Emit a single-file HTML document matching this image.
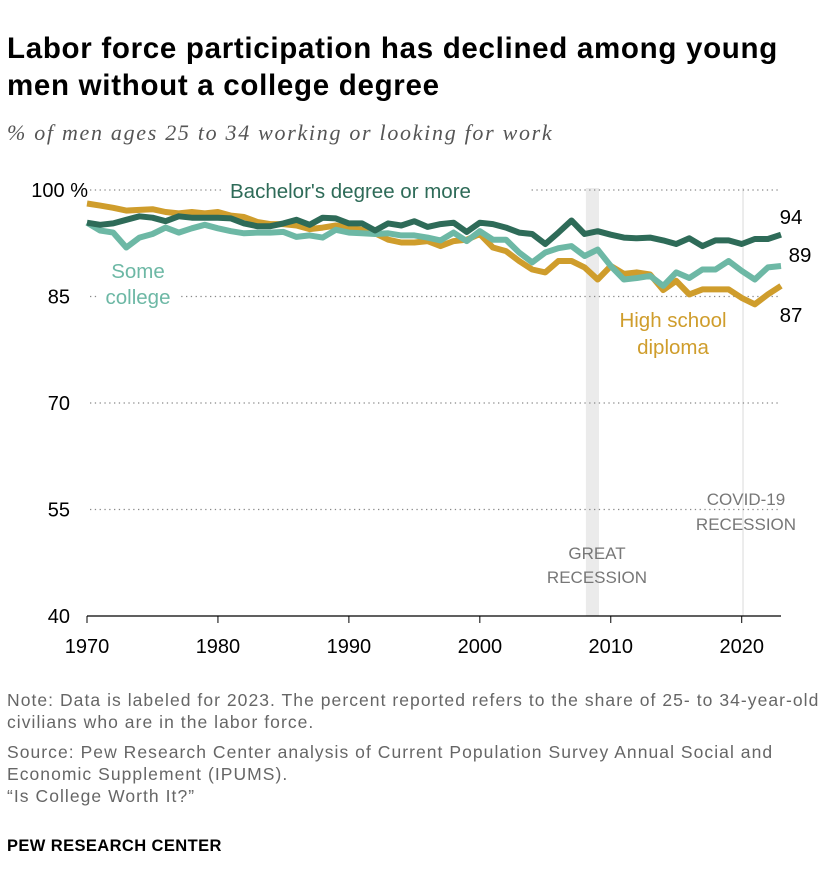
<!DOCTYPE html>
<html><head><meta charset="utf-8"><style>
body{margin:0;background:#fff;font-family:"Liberation Sans",sans-serif;}
#wrap{position:relative;width:840px;height:896px;overflow:hidden;}
.t{position:absolute;margin:0}
</style></head><body>
<div id="wrap">
<h1 class="t" style="left:7px;top:30px;font-size:29.5px;line-height:37px;font-weight:bold;color:#000;white-space:nowrap;letter-spacing:0.7px">Labor force participation has declined among young<br>men without a college degree</h1>
<div class="t" style="left:7px;top:120px;font-size:22px;font-style:italic;font-family:'Liberation Serif',serif;color:#555;letter-spacing:1.7px;white-space:nowrap">% of men ages 25 to 34 working or looking for work</div>
<svg id="chart" width="840" height="660" style="position:absolute;left:0;top:0"></svg>
<div class="t" style="left:7px;top:689px;font-size:17.5px;line-height:22px;color:#666;white-space:nowrap;letter-spacing:1.05px">Note: Data is labeled for 2023. The percent reported refers to the share of 25- to 34-year-old<br>civilians who are in the labor force.</div>
<div class="t" style="left:7px;top:741px;font-size:17.5px;line-height:22px;color:#666;white-space:nowrap;letter-spacing:1.05px">Source: Pew Research Center analysis of Current Population Survey Annual Social and<br>Economic Supplement (IPUMS).<br>“Is College Worth It?”</div>
<div class="t" style="left:7px;top:837px;font-size:16.5px;font-weight:bold;color:#000;letter-spacing:0.4px">PEW RESEARCH CENTER</div>
</div>
<script>
const years=[];for(let y=1970;y<=2023;y++)years.push(y);
const yTicks=[100,85,70,55,40];
const yTickLabels=["100 %","85","70","55","40"];
const xTicks=[1970,1980,1990,2000,2010,2020];
const bachelor=[95.4,95.1,95.3,95.8,96.3,96.1,95.6,96.3,96.1,96.1,96.1,96.0,95.3,94.9,94.9,95.3,95.8,95.1,96.1,96.0,95.3,95.3,94.3,95.3,95.0,95.6,94.8,95.2,95.4,94.1,95.4,95.2,94.7,94.0,93.8,92.4,94.0,95.7,93.8,94.2,93.7,93.3,93.2,93.3,92.9,92.4,93.2,92.1,92.9,92.9,92.4,93.1,93.1,93.7];
const someCollege=[95.4,94.3,94.0,91.9,93.3,93.8,94.7,94.0,94.6,95.1,94.6,94.2,93.9,94.0,94.0,94.1,93.4,93.6,93.3,94.4,94.0,93.9,93.8,93.9,93.6,93.6,93.3,92.9,94.0,92.8,94.2,93.0,93.0,91.2,89.8,91.2,91.8,92.1,90.7,91.6,89.3,87.4,87.6,87.9,86.5,88.4,87.6,88.8,88.8,90.0,88.6,87.4,89.1,89.3];
const highSchool=[98.1,97.8,97.5,97.1,97.2,97.3,96.9,96.7,96.9,96.7,96.9,96.4,96.2,95.5,95.2,95.2,95.0,94.5,94.7,95.0,94.7,94.4,93.9,93.0,92.6,92.6,92.8,92.1,92.8,93.0,93.8,91.9,91.4,90.0,88.8,88.4,90.0,90.0,89.1,87.4,89.3,88.2,88.4,88.1,85.9,87.2,85.3,86.0,86.0,86.0,84.8,83.9,85.3,86.5];
const svg=document.getElementById('chart');const NS='http://www.w3.org/2000/svg';
const X=y=>87+(y-1970)*(781-87)/53;
const Y=v=>190+(100-v)*(616-190)/60;
function mk(tag,attrs,parent){const e=document.createElementNS(NS,tag);for(const k in attrs)e.setAttribute(k,attrs[k]);(parent||svg).appendChild(e);return e;}
let r=mk('rect',{x:X(2008.1),y:188,width:X(2009.1)-X(2008.1),height:428,fill:'#ebebeb'});


let c=mk('line',{x1:X(2020.1),x2:X(2020.1),y1:188,y2:616,stroke:'#e6e6e6','stroke-width':1.5});


yTicks.forEach((v,i)=>{
 if(i<4){let g=mk('line',{x1:90,x2:781,y1:Y(v),y2:Y(v),stroke:'#888','stroke-width':1.3,'stroke-dasharray':'1.3,3.5'});
 
 }
 let t=mk('text',{x:i==0?88:70,y:Y(v)+7,'text-anchor':'end','font-size':20,fill:'#000','font-family':'Liberation Sans'});t.textContent=yTickLabels[i];
 
 
});
let ax=mk('line',{x1:87,x2:781,y1:616,y2:616,stroke:'#000','stroke-width':1.2});


xTicks.forEach(yr=>{
 let tk=mk('line',{x1:X(yr),x2:X(yr),y1:616,y2:623,stroke:'#000','stroke-width':1});
 
 
 let t=mk('text',{x:X(yr),y:653,'text-anchor':'middle','font-size':20,fill:'#000','font-family':'Liberation Sans'});t.textContent=yr;
 
 
});
let bg=mk('rect',{x:222,y:178,width:308,height:24,fill:'#fff'});


let bg2=mk('rect',{x:98,y:285,width:80,height:22,fill:'#fff'});


function series(data,color,name){
 const d=data.map((v,i)=>(i?'L':'M')+X(years[i]).toFixed(1)+','+Y(v).toFixed(1)).join('');
 let p=mk('path',{d:d,fill:'none',stroke:color,'stroke-width':6,'stroke-linejoin':'round'});
 
 
}
series(highSchool,'#cf9d2c','high-school-line');
series(someCollege,'#6db8a5','some-college-line');
series(bachelor,'#2e6b58','bachelor-line');
function lab(txt,x,y,color,size,name,anchor){let t=mk('text',{x:x,y:y,'font-size':size,fill:color,'font-family':'Liberation Sans','text-anchor':anchor||'start'});t.textContent=txt;
 
 }
lab("Bachelor's degree or more",230,198,'#2e6b58',20.5,'bachelor-label');
lab('Some',138,278,'#6db8a5',20.5,'some-college-label','middle');
lab('college',138,304,'#6db8a5',20.5,'some-college-label','middle');
lab('High school',673,327,'#cf9d2c',20.5,'high-school-label','middle');
lab('diploma',673,354,'#cf9d2c',20.5,'high-school-label','middle');
lab(String(Math.round(bachelor[53]+0.3)),791,224,'#000',20.5,'bachelor-value-label','middle');
lab(String(Math.round(someCollege[53])),800,262,'#000',20.5,'some-college-value-label','middle');
lab(String(Math.round(highSchool[53]+0.5)),791,322,'#000',20.5,'high-school-value-label','middle');
lab('GREAT',597,559,'#777',17,'great-recession-label','middle');
lab('RECESSION',597,583,'#777',17,'great-recession-label','middle');
lab('COVID-19',746,505,'#777',17,'covid-recession-label','middle');
lab('RECESSION',746,530,'#777',17,'covid-recession-label','middle');
</script>
</body></html>
